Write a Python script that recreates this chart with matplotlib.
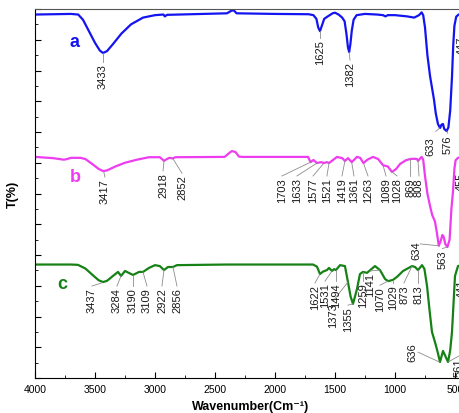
import matplotlib
matplotlib.use("Agg")
import matplotlib.pyplot as plt
from matplotlib.ticker import MultipleLocator

plt.rcParams['font.family'] = ['Liberation Sans', 'DejaVu Sans']

# spectrum a (blue)
wn_a = [4000, 3700, 3640, 3600, 3560, 3500, 3460, 3433, 3400, 3350, 3280, 3200, 3100,
        3000, 2930, 2918, 2900, 2400, 2365, 2345, 2320, 2000, 1720, 1680, 1655, 1640,
        1625, 1610, 1590, 1560, 1520, 1500, 1470, 1440, 1420, 1405, 1392, 1382, 1372,
        1360, 1345, 1320, 1250, 1150, 1100, 1080, 1060, 1000, 900, 840, 800, 778, 765,
        750, 730, 708, 690, 675, 660, 642, 625, 612, 600, 590, 570, 555, 540, 525, 515,
        505, 490, 470, 440, 400]
t_a = [118.2, 118.4, 118.2, 116.5, 113.5, 109.0, 106.5, 105.7, 106.3, 108.6, 112.0, 115.0,
       117.2, 118.0, 118.2, 117.6, 118.1, 118.6, 119.4, 119.6, 118.6, 118.4, 118.3, 118.0,
       116.8, 114.0, 112.8, 114.5, 116.8, 117.6, 118.6, 118.8, 118.2, 117.2, 116.0, 112.0,
       107.5, 106.0, 108.5, 113.0, 116.5, 118.0, 118.4, 118.2, 118.0, 117.6, 118.0, 118.0,
       117.6, 117.2, 118.0, 118.9, 118.0, 114.0, 105.0, 98.2, 94.0, 90.5, 86.0, 82.6, 81.3,
       82.4, 82.6, 81.0, 80.3, 81.5, 87.0, 98.0, 108.0, 114.5, 117.5, 118.2, 118.4, 118.4]

# spectrum b (magenta)
wn_b = [4000, 3850, 3760, 3733, 3700, 3620, 3580, 3530, 3470, 3433, 3400, 3330, 3250,
        3150, 3050, 2960, 2935, 2925, 2905, 2880, 2852, 2830, 2420, 2380, 2360, 2330,
        2300, 2270, 1725, 1703, 1680, 1650, 1617, 1592, 1567, 1550, 1530, 1483, 1440,
        1417, 1392, 1361, 1317, 1290, 1263, 1230, 1183, 1140, 1100, 1060, 1025, 990, 958,
        910, 875, 840, 817, 808, 795, 778, 765, 750, 730, 708, 690, 667, 650, 635, 620,
        605, 595, 580, 563, 545, 530, 517, 505, 495, 475, 440, 400]
t_b = [71.9, 71.5, 71.0, 71.2, 71.6, 71.6, 71.2, 69.8, 68.0, 67.3, 67.5, 68.8, 70.0,
       71.0, 71.8, 71.8, 71.0, 70.6, 71.1, 71.6, 71.4, 71.8, 71.9, 73.2, 73.8, 73.5,
       72.0, 71.9, 71.9, 70.2, 70.9, 69.9, 70.2, 69.9, 70.2, 69.9, 70.5, 71.9, 71.5,
       70.6, 71.5, 70.2, 71.9, 71.6, 69.9, 71.0, 71.9, 71.2, 69.2, 68.8, 67.0, 68.0, 69.6,
       70.8, 71.2, 71.3, 71.2, 70.6, 71.2, 71.9, 71.0, 65.7, 60.0, 55.9, 53.0, 50.9, 47.0,
       43.0, 44.5, 46.5, 46.0, 43.5, 42.6, 45.0, 55.0, 60.5, 68.0, 70.8, 71.6, 71.9, 71.9]

# spectrum c (green)
wn_c = [4000, 3700, 3642, 3580, 3520, 3470, 3433, 3400, 3350, 3308, 3283, 3250, 3183,
        3133, 3100, 3050, 3000, 2960, 2925, 2892, 2850, 2817, 2400, 1683, 1650, 1625,
        1600, 1567, 1550, 1525, 1508, 1492, 1458, 1417, 1392, 1370, 1350, 1317, 1292,
        1267, 1233, 1167, 1125, 1083, 1058, 1017, 980, 933, 858, 833, 808, 775, 755, 733,
        712, 692, 667, 645, 625, 600, 558, 540, 525, 500, 475, 440, 400]
t_c = [36.9, 36.9, 36.8, 35.6, 33.5, 31.8, 31.2, 31.6, 33.2, 34.5, 33.2, 34.8, 33.5,
       34.5, 34.5, 35.8, 36.7, 36.4, 35.1, 36.1, 36.1, 36.7, 36.9, 36.9, 36.2, 33.8,
       34.6, 35.1, 35.8, 34.8, 35.4, 35.1, 36.7, 36.4, 31.2, 26.5, 24.1, 28.9, 33.8,
       34.5, 34.2, 36.4, 35.1, 32.2, 31.5, 31.9, 33.0, 34.8, 36.4, 36.1, 35.1, 36.7, 35.5,
       29.9, 22.0, 15.0, 11.7, 8.5, 5.2, 8.8, 5.2, 9.0, 15.0, 33.2, 36.4, 36.8, 36.9]

series = [(wn_a, t_a, '#1414f0', 'a'), (wn_b, t_b, '#ee3cf0', 'b'), (wn_c, t_c, '#168216', 'c')]

# peak labels: text, peak position, text position (top of text), optional line end
labels_a = [('3433', 3433, 105.7, 3433, 102.4), ('1625', 1625, 112.8, 1625, 110.2),
            ('1382', 1382, 106.0, 1375, 103.1), ('633', 628, 81.3, 708, 78.7, 660, 80.2),
            ('576', 568, 80.3, 560, 79.3), ('447', 447, 118.0, 447, 111.2)]
labels_b = [('3417', 3428, 67.3, 3417, 65.0), ('2918', 2925, 70.6, 2933, 67.0),
            ('2852', 2852, 71.4, 2775, 66.3), ('1703', 1703, 70.2, 1942, 65.4),
            ('1633', 1650, 69.9, 1817, 65.4), ('1577', 1592, 69.9, 1683, 65.4),
            ('1521', 1550, 69.9, 1567, 65.4), ('1419', 1417, 70.6, 1442, 65.4),
            ('1361', 1361, 70.2, 1342, 65.4), ('1263', 1263, 69.9, 1225, 65.4),
            ('1089', 1100, 69.2, 1075, 65.4), ('1028', 1025, 67.0, 983, 65.4),
            ('869', 875, 71.2, 875, 65.4), ('808', 808, 70.6, 800, 65.4),
            ('634', 635, 43.0, 825, 44.6, 790, 43.6), ('563', 563, 42.6, 605, 41.8),
            ('455', 455, 71.9, 455, 67.0)]
labels_c = [('3437', 3440, 31.0, 3525, 29.6), ('3284', 3283, 33.2, 3317, 29.6),
            ('3190', 3183, 33.5, 3183, 29.6), ('3109', 3100, 34.5, 3067, 29.6),
            ('2922', 2925, 35.1, 2942, 29.6), ('2856', 2850, 36.1, 2817, 29.6),
            ('1622', 1625, 33.8, 1667, 30.6), ('1531', 1525, 34.8, 1583, 31.2),
            ('1373', 1392, 31.2, 1517, 24.7), ('1494', 1492, 35.1, 1492, 31.2),
            ('1355', 1350, 24.1, 1392, 23.4), ('1259', 1267, 34.5, 1267, 31.2),
            ('1141', 1125, 35.1, 1208, 34.5), ('1070', 1058, 31.5, 1125, 29.9),
            ('1029', 1017, 31.9, 1017, 30.6), ('873', 858, 36.4, 925, 30.6),
            ('813', 808, 35.1, 808, 30.6), ('636', 630, 5.2, 858, 11.7, 808, 8.4),
            ('561', 558, 5.2, 470, 6.8), ('441', 441, 36.9, 441, 32.2)]

tag_pos = {'a': (3667, 109.3), 'b': (3667, 65.4), 'c': (3775, 30.6)}

fig = plt.figure(figsize=(4.6, 4.14), dpi=100)
ax = fig.add_axes([35 / 460, 35 / 414, 432 / 460, 369 / 414])

for wn, t, col, tag in series:
    ax.plot(wn, t, color=col, lw=1.6, solid_joinstyle='round')
    ax.text(*tag_pos[tag], tag, color=col, fontsize=13, fontweight='bold',
            ha='center', va='center')

for group in (labels_a, labels_b, labels_c):
    for lab in group:
        txt, pw, pt, tw, tt = lab[:5]
        if len(lab) > 5:
            ex, ey = lab[5], lab[6]
        else:
            ex, ey = tw, tt + 0.3
        ax.plot([pw, ex], [pt, ey], color='#8c8c8c', lw=0.6)
        ax.text(tw, tt, txt, rotation=90, fontsize=8, ha='center', va='top',
                color='#1a1a1a')

ax.set_xlim(4000, 400)
ax.set_ylim(0, 120)
ax.xaxis.set_major_locator(MultipleLocator(500))
ax.xaxis.set_minor_locator(MultipleLocator(250))
ax.yaxis.set_major_locator(MultipleLocator(10))
ax.yaxis.set_minor_locator(MultipleLocator(5))
ax.tick_params(axis='both', which='both', direction='in')
ax.tick_params(axis='x', which='major', length=4, labelsize=7.5, pad=4)
ax.tick_params(axis='x', which='minor', length=2.5)
ax.tick_params(axis='y', which='major', length=4, labelleft=False)
ax.tick_params(axis='y', which='minor', length=2.5)
ax.spines['top'].set_color('#555555')

ax.set_xlabel('Wavenumber(Cm\u207b\u00b9)', fontsize=9, fontweight='bold', labelpad=5)
ax.set_ylabel('T(%)', fontsize=9, fontweight='bold', labelpad=8)

fig.savefig('out.png', dpi=100)
